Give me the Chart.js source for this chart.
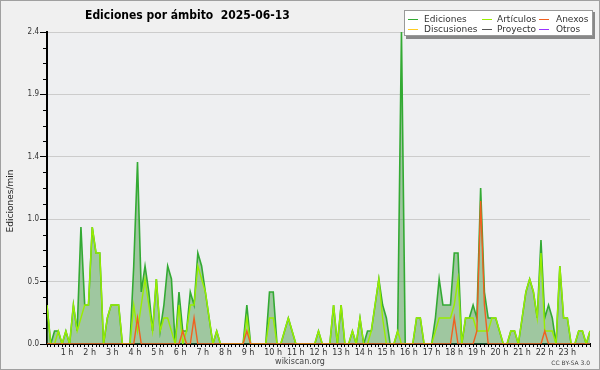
<!DOCTYPE html>
<html>
<head>
<meta charset="utf-8">
<script src="https://cdn.jsdelivr.net/npm/chart.js@4/dist/chart.umd.min.js"></script>
<style>
  html, body { margin: 0; padding: 0; background: #f0f0f0; }
  #wrap { width: 600px; height: 370px; }
</style>
</head>
<body>
<div id="wrap"><canvas id="chart" width="600" height="370"></canvas></div>
<script>
const chartTitle = 'Ediciones por ámbito  2025-06-13';
const yTitle = 'Ediciones/min';
const yTickLabels = ['0.0', '0.5', '1.0', '1.4', '1.9', '2.4'];
const hourLabels = ['1 h', '2 h', '3 h', '4 h', '5 h', '6 h', '7 h', '8 h', '9 h', '10 h', '11 h', '12 h',
  '13 h', '14 h', '15 h', '16 h', '17 h', '18 h', '19 h', '20 h', '21 h', '22 h', '23 h'];

// one value per 10 minutes (edits/min), one line per hour
const ediciones = [
  0.3, 0, 0.1, 0.1, 0, 0.1,
  0, 0.3, 0.1, 0.9, 0.3, 0.3,
  0.9, 0.7, 0.7, 0, 0.2, 0.3,
  0.3, 0.3, 0, 0, 0, 0.6,
  1.4, 0.4, 0.6, 0.4, 0.1, 0.5,
  0.1, 0.3, 0.6, 0.5, 0, 0.4,
  0.1, 0.1, 0.4, 0.3, 0.7, 0.6,
  0.4, 0.2, 0, 0.1, 0, 0,
  0, 0, 0, 0, 0, 0.3,
  0, 0, 0, 0, 0, 0.4,
  0.4, 0, 0, 0.1, 0.2, 0.1,
  0, 0, 0, 0, 0, 0,
  0.1, 0, 0, 0, 0.3, 0,
  0.3, 0, 0, 0.1, 0, 0.2,
  0, 0.1, 0.1, 0.3, 0.5, 0.3,
  0.2, 0, 0, 0.1, 2.4, 0,
  0, 0, 0.2, 0.2, 0, 0,
  0, 0.2, 0.5, 0.3, 0.3, 0.3,
  0.7, 0.7, 0, 0.2, 0.2, 0.3,
  0.2, 1.2, 0.4, 0.2, 0.2, 0.2,
  0.1, 0, 0, 0.1, 0.1, 0,
  0.2, 0.4, 0.5, 0.4, 0.2, 0.8,
  0.2, 0.3, 0.2, 0, 0.6, 0.2,
  0.2, 0, 0, 0.1, 0.1, 0,
  0.1
];
const articulos = [
  0.3, 0, 0, 0.1, 0, 0.1,
  0, 0.3, 0.1, 0.2, 0.3, 0.3,
  0.9, 0.7, 0.7, 0, 0.2, 0.3,
  0.3, 0.3, 0, 0, 0, 0.3,
  0.1, 0.3, 0.5, 0.3, 0.1, 0.5,
  0.1, 0.2, 0.2, 0.1, 0, 0.3,
  0, 0.1, 0.3, 0.3, 0.6, 0.5,
  0.4, 0.2, 0, 0.1, 0, 0,
  0, 0, 0, 0, 0, 0.2,
  0, 0, 0, 0, 0, 0.2,
  0.2, 0, 0, 0.1, 0.2, 0.1,
  0, 0, 0, 0, 0, 0,
  0.1, 0, 0, 0, 0.3, 0,
  0.3, 0, 0, 0.1, 0, 0.2,
  0, 0, 0.1, 0.3, 0.5, 0.2,
  0, 0, 0, 0.1, 0, 0,
  0, 0, 0.2, 0.2, 0, 0,
  0, 0.1, 0.2, 0.2, 0.2, 0.2,
  0.3, 0.5, 0, 0.2, 0.2, 0.2,
  0.1, 0.1, 0.1, 0.1, 0.2, 0.2,
  0.1, 0, 0, 0.1, 0.1, 0,
  0.2, 0.4, 0.5, 0.4, 0.2, 0.7,
  0.1, 0.1, 0.1, 0, 0.6, 0.2,
  0.2, 0, 0, 0.1, 0.1, 0,
  0.1
];
const anexos = [
  0, 0, 0, 0, 0, 0,
  0, 0, 0, 0, 0, 0,
  0, 0, 0, 0, 0, 0,
  0, 0, 0, 0, 0, 0,
  0.2, 0, 0, 0, 0, 0,
  0, 0, 0, 0, 0, 0,
  0.1, 0, 0, 0.2, 0, 0,
  0, 0, 0, 0, 0, 0,
  0, 0, 0, 0, 0, 0.1,
  0, 0, 0, 0, 0, 0,
  0, 0, 0, 0, 0, 0,
  0, 0, 0, 0, 0, 0,
  0, 0, 0, 0, 0, 0,
  0, 0, 0, 0, 0, 0,
  0, 0, 0, 0, 0, 0,
  0, 0, 0, 0, 0, 0,
  0, 0, 0, 0, 0, 0,
  0, 0, 0, 0, 0, 0,
  0.2, 0, 0, 0, 0, 0,
  0.1, 1.1, 0.3, 0, 0, 0,
  0, 0, 0, 0, 0, 0,
  0, 0, 0, 0, 0, 0,
  0.1, 0, 0, 0, 0, 0,
  0, 0, 0, 0, 0, 0,
  0
];
// nothing visible for these on this day
const discusiones = [];
const proyecto = [];
const otros = [];

const FONT = '"DejaVu Sans", sans-serif';
const FONT_C = '"DejaVu Sans Condensed", "DejaVu Sans", sans-serif';

// time of each 10-minute slot, in hours
const slots = ediciones.map((_, i) => i / 6);
const toPoints = arr => arr.map((v, i) => ({ x: slots[i], y: v }));

/* ------------------------------
   Decorations (background, title, legend box, footer)
------------------------------ */
const decor = {
  id: 'decor',
  beforeDraw(chart) {
    const { ctx, chartArea: a } = chart;
    ctx.save();
    ctx.fillStyle = '#f0f0f0';
    ctx.fillRect(0, 0, chart.width, chart.height);
    ctx.fillStyle = '#eeeff1';
    ctx.fillRect(a.left, a.top, a.right - a.left, a.bottom - a.top);
    ctx.restore();
  },
  afterDraw(chart) {
    const { ctx, chartArea: a } = chart;
    const ys = chart.scales.y;
    ctx.save();

    // short minor ticks on the y axis
    ctx.strokeStyle = '#000';
    ctx.lineWidth = 1;
    ys.ticks.forEach((t, k) => {
      if (k % 4 === 0) return;
      const py = Math.round(ys.getPixelForValue(t.value)) + 0.5;
      ctx.beginPath();
      ctx.moveTo(a.left - 4, py);
      ctx.lineTo(a.left, py);
      ctx.stroke();
    });

    // title
    ctx.fillStyle = '#000';
    ctx.font = 'bold 12px ' + FONT_C;
    ctx.textAlign = 'left';
    ctx.textBaseline = 'alphabetic';
    ctx.fillText(chartTitle, 85, 18.5);

    // y axis title
    ctx.save();
    ctx.translate(13, 201);
    ctx.rotate(-Math.PI / 2);
    ctx.font = '9px ' + FONT;
    ctx.fillStyle = '#222';
    ctx.textAlign = 'center';
    ctx.fillText(yTitle, 0, 0);
    ctx.restore();

    // footer
    ctx.fillStyle = '#444';
    ctx.font = '8px ' + FONT;
    ctx.textAlign = 'center';
    ctx.fillText('wikiscan.org', 300, 364);
    ctx.font = '6px ' + FONT;
    ctx.textAlign = 'right';
    ctx.fillText('CC BY-SA 3.0', 590, 365);

    // legend
    ctx.fillStyle = '#888';
    ctx.fillRect(406, 12, 189, 27);
    ctx.fillStyle = '#fff';
    ctx.fillRect(404, 10, 189, 26);
    ctx.strokeStyle = '#999';
    ctx.strokeRect(404.5, 10.5, 188, 25);
    const colSwatch = [408, 482, 539];
    const colText = [424, 497, 556];
    const rowY = [19.5, 29.5];
    ctx.font = '9px ' + FONT;
    ctx.textAlign = 'left';
    ctx.textBaseline = 'middle';
    chart.data.datasets.forEach((ds, k) => {
      const c = k % 3, r = Math.floor(k / 3);
      ctx.strokeStyle = ds.borderColor;
      ctx.lineWidth = 1;
      ctx.beginPath();
      ctx.moveTo(colSwatch[c], rowY[r]);
      ctx.lineTo(colSwatch[c] + 10, rowY[r]);
      ctx.stroke();
      ctx.fillStyle = '#333';
      ctx.fillText(ds.label, colText[c], rowY[r]);
    });

    // outer frame
    ctx.strokeStyle = '#a0a0a0';
    ctx.lineWidth = 1;
    ctx.strokeRect(0.5, 0.5, chart.width - 1, chart.height - 1);
    ctx.restore();
  }
};

new Chart(document.getElementById('chart'), {
  type: 'line',
  data: {
    datasets: [
      {
        label: 'Ediciones',
        data: toPoints(ediciones),
        borderColor: '#33aa33',
        backgroundColor: 'rgba(80,160,80,0.5)',
        borderWidth: 1.6,
        fill: 'origin',
        order: 3
      },
      {
        label: 'Artículos',
        data: toPoints(articulos),
        borderColor: '#99ee00',
        borderWidth: 1.4,
        fill: false,
        order: 2
      },
      {
        label: 'Anexos',
        data: toPoints(anexos),
        borderColor: '#f06020',
        borderWidth: 1.4,
        fill: false,
        order: 1
      },
      { label: 'Discusiones', data: discusiones, borderColor: '#ffcc22', fill: false, order: 0 },
      { label: 'Proyecto', data: proyecto, borderColor: '#555555', fill: false, order: 0 },
      { label: 'Otros', data: otros, borderColor: '#9933ff', fill: false, order: 0 }
    ]
  },
  options: {
    responsive: false,
    animation: false,
    layout: { padding: { top: 32, right: 10, left: 0, bottom: 0 } },
    elements: { point: { radius: 0 }, line: { tension: 0 } },
    plugins: {
      legend: { display: false },
      title: { display: false },
      tooltip: { enabled: false }
    },
    scales: {
      x: {
        type: 'linear',
        min: 0,
        max: 24,
        afterBuildTicks: s => {
          s.ticks = Array.from({ length: 145 }, (_, k) => ({ value: k / 6 }));
        },
        afterFit: s => { s.height = 26; },
        border: { color: '#000', width: 2 },
        grid: { drawOnChartArea: false, tickLength: 3, tickColor: '#000', tickWidth: 1 },
        ticks: {
          autoSkip: false,
          maxRotation: 0,
          minRotation: 0,
          align: 'start',
          labelOffset: -9,
          padding: 1,
          color: '#333',
          font: { family: FONT, size: 8 },
          callback: (v, k) => (k % 6 === 0 && k > 0 && k < 144) ? hourLabels[k / 6 - 1] : ''
        }
      },
      y: {
        min: 0,
        max: 2.4,
        afterBuildTicks: s => {
          s.ticks = Array.from({ length: 21 }, (_, k) => ({ value: Math.round(k * 12) / 100 }));
        },
        afterFit: s => { s.width = 47; },
        border: { color: '#000', width: 2 },
        grid: {
          color: c => (c.index % 4 ? 'rgba(0,0,0,0)' : '#cccccc'),
          tickColor: c => (c.index % 4 ? 'rgba(0,0,0,0)' : '#000'),
          tickLength: 7,
          lineWidth: 1
        },
        ticks: {
          autoSkip: false,
          padding: 1,
          color: '#333',
          font: { family: FONT_C, size: 8 },
          callback: (v, k) => (k % 4 ? '' : yTickLabels[k / 4])
        }
      }
    }
  },
  plugins: [decor]
});
</script>
</body>
</html>
